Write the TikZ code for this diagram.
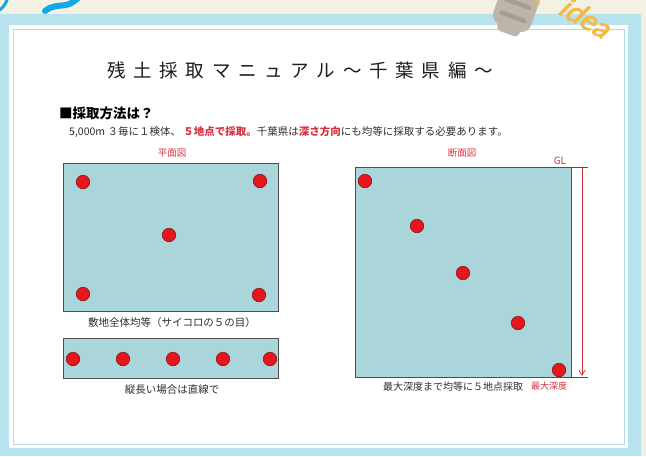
\documentclass[tikz,border=0pt]{standalone}
\usepackage{fontspec}
\usetikzlibrary{arrows.meta}
\setmainfont{Noto Sans CJK JP}
\newfontfamily\jp{Noto Sans CJK JP}
\newfontfamily\jptitle[LetterSpace=42]{Noto Sans CJK JP}
\newfontfamily\ideafont[FakeBold=3, FakeSlant=0.25]{Lato}

\definecolor{cream}{HTML}{F3F1E1}
\definecolor{frameblue}{HTML}{B7E3EE}
\definecolor{innerline}{HTML}{AEDCE6}
\definecolor{soil}{HTML}{AAD5DA}
\definecolor{boxedge}{HTML}{4E4E4E}
\definecolor{dotred}{HTML}{E5161D}
\definecolor{dotedge}{HTML}{8A1212}
\definecolor{labelred}{HTML}{D8303C}
\definecolor{textgray}{HTML}{2E2E2E}
\definecolor{titlegray}{HTML}{1C1C1C}
\definecolor{swoosh}{HTML}{12A7E6}
\definecolor{bulbgray}{HTML}{BDB4AA}
\definecolor{bulbstripe}{HTML}{A69E96}
\definecolor{ideayellow}{HTML}{F3BA46}

\begin{document}
\begin{tikzpicture}[x=1pt,y=-1pt,
  dot/.style={circle, fill=dotred, draw=dotedge, line width=0.6pt,
              minimum size=13.5pt, inner sep=0pt},
  site/.style={draw=boxedge, fill=soil, line width=0.8pt},
  redlabel/.style={text=labelred, font=\jp\fontsize{9.5}{11}\selectfont, inner sep=0pt},
  caption/.style={text=textgray, font=\jp\fontsize{10.5}{12}\selectfont, inner sep=0pt}]
\useasboundingbox (0,0) rectangle (646,456);
\clip (0,0) rectangle (646,456);

% page background and framed sheet
\fill[cream] (0,0) rectangle (646,456);
\fill[frameblue] (0,14) rectangle (641,456);
\fill[white] (9,25) rectangle (628,448);
\draw[innerline, line width=0.8pt] (13,29) rectangle (624,444);

% brush strokes in the upper left corner
\draw[swoosh, line width=3pt, line cap=round] (-2,11) .. controls (3,8) and (6,4) .. (8,-3);
\draw[swoosh, line width=6pt, line cap=round]
  (45,11) .. controls (50,6) and (58,6) .. (66,5) .. controls (71,4) and (75,1) .. (80,-4);

% light bulb base and the "idea" lettering
\begin{scope}[shift={(515,11)}, rotate=-20]
  \fill[bulbgray, rounded corners=10pt] (-20,-26) rectangle (20,18);
  \fill[bulbgray, rounded corners=5pt] (-12,12) rectangle (12,24);
  \draw[bulbstripe, line width=4.5pt, line cap=round] (-12,-8) -- (12,-8);
  \draw[bulbstripe, line width=4.5pt, line cap=round] (-12,6) -- (12,6);
\end{scope}
\draw[ideayellow, line width=2pt, line cap=round] (536,-1) -- (539,3);
\node[text=ideayellow, rotate=-30, inner sep=0pt,
      font=\ideafont\fontsize{29}{30}\selectfont] (idea) at (585,17) {idea};

% heading texts
\node[anchor=west, inner sep=0pt, text=titlegray,
      font=\jptitle\fontsize{18.5}{22}\selectfont] (title) at (107,70)
  {残土採取マニュアル～千葉県編～};
\node[anchor=west, inner sep=0pt, text=black,
      font=\jp\bfseries\fontsize{13.5}{16}\selectfont] (question) at (59,113)
  {■採取方法は？};
\node[anchor=west, inner sep=0pt, text=textgray,
      font=\jp\fontsize{10.5}{12}\selectfont] (rule) at (69,132)
  {5,000m ３毎に１検体、 {\color{labelred}\bfseries ５地点で採取。}千葉県は{\color{labelred}\bfseries 深さ方向}にも均等に採取する必要あります。};

% plan view: five points like the five on a die
\node[redlabel] (planlbl) at (172,153) {平面図};
\draw[site] (63,163) rectangle (278,311);
\node[dot] (p1) at (83,182) {};
\node[dot] (p2) at (260,181) {};
\node[dot] (p3) at (169,235) {};
\node[dot] (p4) at (83,294) {};
\node[dot] (p5) at (259,295) {};
\node[caption] (plancap) at (172,323) {敷地全体均等（サイコロの５の目）};

% long narrow site: points in a line
\draw[site] (63,338) rectangle (278,378);
\node[dot] (l1) at (73,359) {};
\node[dot] (l2) at (123,359) {};
\node[dot] (l3) at (173,359) {};
\node[dot] (l4) at (223,359) {};
\node[dot] (l5) at (270,359) {};
\node[caption] (linecap) at (172,390) {縦長い場合は直線で};

% section view: points spread down to the maximum depth
\node[redlabel] (seclbl) at (462,153) {断面図};
\draw[site] (355,167) rectangle (571,377);
\draw[boxedge, line width=0.8pt] (571,167) -- (588,167);
\draw[boxedge, line width=0.8pt] (571,377) -- (588,377);
\node[text=labelred, inner sep=0pt, font=\jp\fontsize{10}{12}\selectfont] (gl) at (560,161) {GL};
\coordinate (gltop) at (582,168);
\coordinate (glbot) at (582,376);
\draw[labelred, line width=0.8pt, -{Straight Barb[length=5pt,width=6pt]}] (gltop) -- (glbot);
\node[dot] (d1) at (365,181) {};
\node[dot] (d2) at (417,226) {};
\node[dot] (d3) at (463,273) {};
\node[dot] (d4) at (518,323) {};
\node[dot] (d5) at (559,370) {};
\node[caption, font=\jp\fontsize{10}{12}\selectfont] (seccap) at (453,387) {最大深度まで均等に５地点採取};
\node[redlabel, font=\jp\fontsize{9}{11}\selectfont] (maxdepth) at (549,386) {最大深度};
\end{tikzpicture}
\end{document}
